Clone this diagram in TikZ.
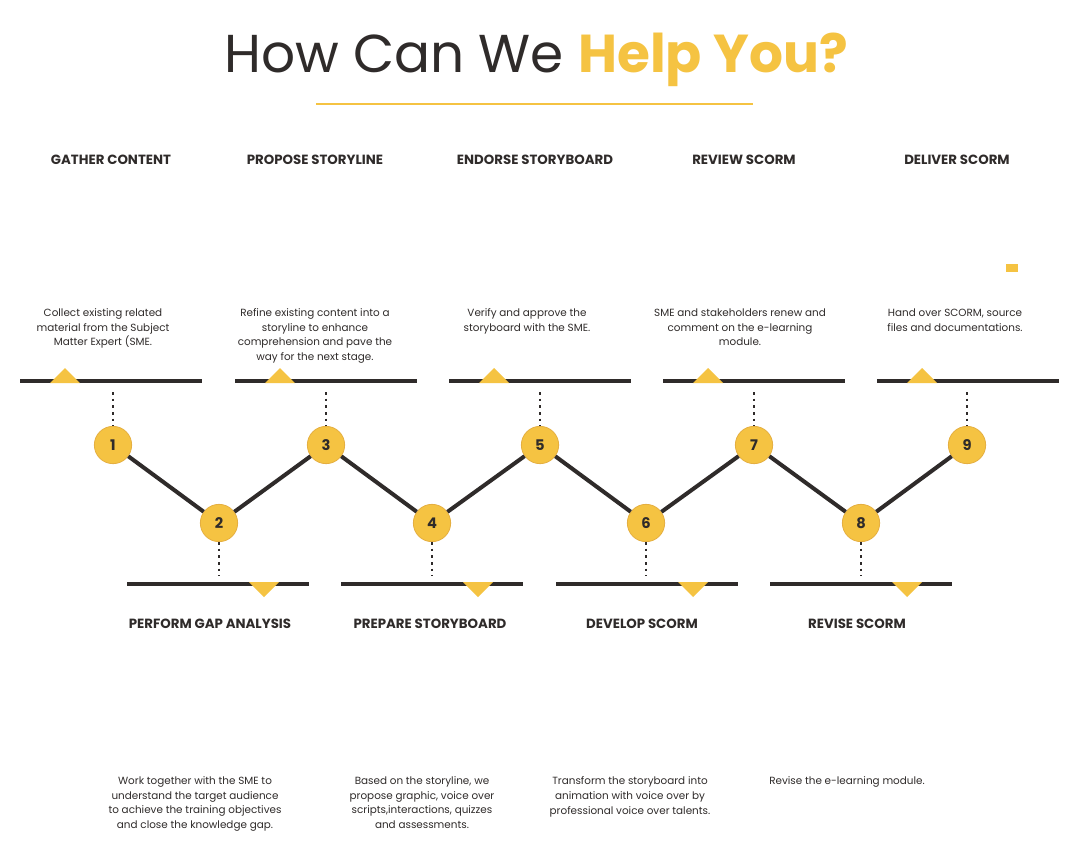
\documentclass[tikz,border=0pt]{standalone}
\usepackage{fontspec}
\setmainfont{Poppins}
\usetikzlibrary{shapes.geometric}
\definecolor{gold}{HTML}{F5C342}
\definecolor{ink}{HTML}{2F2B2A}
\tikzset{
	stepnum/.style  = {circle, draw=gold!70!brown, line width=0.6pt, fill=gold,
		minimum size=28pt, inner sep=0pt, font=\bfseries\fontsize{11}{13}\selectfont, text=ink},
	heading/.style  = {font=\bfseries\fontsize{10}{12}\selectfont, text=ink},
	desc/.style     = {font=\fontsize{7.8}{11}\selectfont, text=ink, align=center},
	bar/.style      = {draw=ink, line width=3.5pt},
	link/.style     = {draw=ink, line width=3pt},
	dots/.style     = {draw=ink, line width=2pt, dash pattern=on 2pt off 3pt},
	tip/.style      = {fill=gold, draw=none}
}
\begin{document}
\begin{tikzpicture}[x=0.75pt, y=-0.75pt]
\useasboundingbox (0,0) rectangle (1080,849);
\fill[white] (0,0) rectangle (1080,849);
% title
\node (title) at (536,60) {\fontsize{40}{44}\selectfont\color{ink}How Can We \textcolor{gold}{\bfseries Help You?}};
\draw[gold, line width=2pt] (316,104) -- (753,104);
\fill[gold] (1006,264) rectangle (1018,272);
% steps above the line
\foreach \n/\x/\bx/\hx/\tx/\head/\txt in {
	1/113/20/111/103/GATHER CONTENT/{Collect existing related\\material from the Subject\\Matter Expert (SME.},
	3/326/235/315/315/PROPOSE STORYLINE/{Refine existing content into a\\storyline to enhance\\comprehension and pave the\\way for the next stage.},
	5/540/449/535/527/ENDORSE STORYBOARD/{Verify and approve the\\storyboard with the SME.},
	7/754/663/744/740/REVIEW SCORM/{SME and stakeholders renew and\\comment on the e-learning\\module.},
	9/967/877/957/955/DELIVER SCORM/{Hand over SCORM, source\\files and documentations.}}
{
	\node[heading] (h\n) at (\hx,160) {\head};
	\node[desc, anchor=north] (d\n) at (\tx,304) {\txt};
	\coordinate (bl\n) at (\bx,381);
	\coordinate (br\n) at (\bx+182,381);
	\draw[bar] (bl\n) -- (br\n);
	\fill[tip] (\bx+45,368) -- (\bx+60,383) -- (\bx+30,383) -- cycle;
	\node[stepnum] (s\n) at (\x,445) {\n};
	\coordinate (t\n) at (\x,392);
	\draw[dots] (t\n) -- (s\n.north);
}
% steps below the line
\foreach \n/\x/\bx/\hx/\tx/\head/\txt in {
	2/219/127/210/195/PERFORM GAP ANALYSIS/{Work together with the SME to\\understand the target audience\\to achieve the training objectives\\and close the knowledge gap.},
	4/432/341/430/422/PREPARE STORYBOARD/{Based on the storyline, we\\propose graphic, voice over\\scripts,interactions, quizzes\\and assessments.},
	6/646/556/642/630/DEVELOP SCORM/{Transform the storyboard into\\animation with voice over by\\professional voice over talents.},
	8/861/770/857/847/REVISE SCORM/{Revise the e-learning module.}}
{
	\node[heading] (h\n) at (\hx,624) {\head};
	\node[desc, anchor=north] (d\n) at (\tx,772) {\txt};
	\coordinate (bl\n) at (\bx,584);
	\coordinate (br\n) at (\bx+182,584);
	\draw[bar] (bl\n) -- (br\n);
	\fill[tip] (\bx+137,597) -- (\bx+152,582) -- (\bx+122,582) -- cycle;
	\node[stepnum] (s\n) at (\x,523) {\n};
	\coordinate (t\n) at (\x,576);
	\draw[dots] (s\n.south) -- (t\n);
}
% zig-zag
\foreach \a/\b in {1/2,2/3,3/4,4/5,5/6,6/7,7/8,8/9}
	\draw[link] (s\a) -- (s\b);
\end{tikzpicture}
\end{document}
